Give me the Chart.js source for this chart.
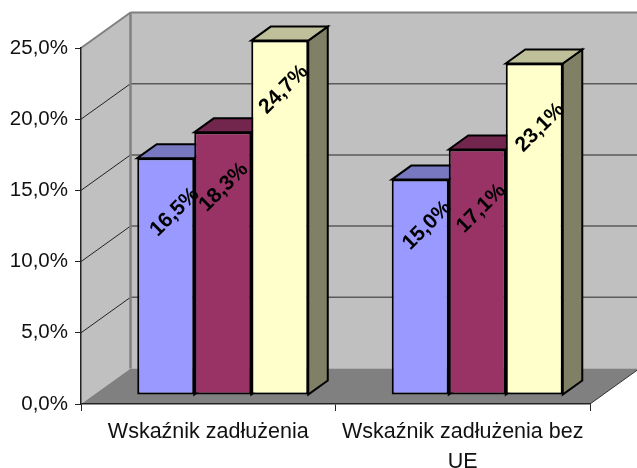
<!DOCTYPE html>
<html>
<head>
<meta charset="utf-8">
<script src="https://cdn.jsdelivr.net/npm/chart.js@4"></script>
<style>
    html, body { margin: 0; padding: 0; background: #fff; overflow: hidden; }
    canvas { display: block; }
</style>
</head>
<body>
<canvas id="barChart" width="637" height="468"></canvas>
<script>
const categories = ['Wskaźnik zadłużenia', ['Wskaźnik zadłużenia bez', 'UE']];
const seriesA = [16.5, 15.0];
const seriesB = [18.3, 17.1];
const seriesC = [24.7, 23.1];
const yTickLabels = ['0,0%', '5,0%', '10,0%', '15,0%', '20,0%', '25,0%'];

const fronts = ['#9999ff', '#993366', '#ffffcc'];
const tops = ['#7878c0', '#73264d', '#bfbf99'];
const sides = ['#4d4d80', '#4d1a33', '#808066'];

// 3d offsets of the box, the bars and the bar depth
const wall = { x: 49.5, y: -35.5 };
const shift = { x: 14.5, y: -9.4 };
const depth = { x: 19.5, y: -14 };

// small per label corrections, [dataset][category]
const labelNudge = [
    [[6, 2], [4, -6]],
    [[-2, 3], [1, 7]],
    [[1, -3], [3, 12]]
];

function poly(ctx, pts, fill, stroke, lw) {
    ctx.beginPath();
    pts.forEach((p, i) => i ? ctx.lineTo(p[0], p[1]) : ctx.moveTo(p[0], p[1]));
    ctx.closePath();
    if (fill) {
        ctx.fillStyle = fill;
        ctx.fill();
    }
    if (stroke) {
        ctx.strokeStyle = stroke;
        ctx.lineWidth = lw;
        ctx.lineJoin = 'miter';
        ctx.stroke();
    }
}

function line(ctx, x1, y1, x2, y2, color, lw) {
    ctx.beginPath();
    ctx.moveTo(x1, y1);
    ctx.lineTo(x2, y2);
    ctx.strokeStyle = color;
    ctx.lineWidth = lw;
    ctx.stroke();
}

const box3d = {
    id: 'box3d',
    beforeDraw(chart) {
        const ctx = chart.ctx;
        const a = chart.chartArea;
        const y = chart.scales.y;
        const bx = a.left + wall.x;
        const rx = a.right + wall.x;
        ctx.save();
        poly(ctx, [[bx, a.top + wall.y], [rx, a.top + wall.y], [rx, a.bottom + wall.y], [bx, a.bottom + wall.y]], '#c0c0c0');
        poly(ctx, [[a.left, a.top], [bx, a.top + wall.y], [bx, a.bottom + wall.y], [a.left, a.bottom]], '#c0c0c0');
        poly(ctx, [[a.left, a.bottom], [bx, a.bottom + wall.y], [rx, a.bottom + wall.y], [a.right, a.bottom]], '#808080');
        y.ticks.forEach((t, i) => {
            const py = y.getPixelForTick(i);
            if (t.value === 0) return;
            const top = t.value === y.max;
            line(ctx, bx, py + wall.y, rx, py + wall.y, top ? '#808080' : '#5a5a5a', top ? 2 : 1.5);
            line(ctx, a.left, py, bx, py + wall.y, top ? '#808080' : '#222', top ? 2 : 1);
        });
        line(ctx, bx, a.top + wall.y, bx, a.bottom + wall.y, '#808080', 2.5);
        line(ctx, a.right, a.bottom, rx, a.bottom + wall.y, '#333', 1);
        ctx.restore();
    },
    beforeDatasetsDraw(chart) {
        const ctx = chart.ctx;
        ctx.save();
        ctx.translate(shift.x, shift.y);
        chart.data.datasets.forEach((ds, d) => {
            chart.getDatasetMeta(d).data.forEach(bar => {
                const l = bar.x - bar.width / 2;
                const r = bar.x + bar.width / 2;
                poly(ctx, [[r, bar.y], [r + depth.x, bar.y + depth.y], [r + depth.x, bar.base + depth.y], [r, bar.base]], sides[d], '#000', 2);
                poly(ctx, [[l, bar.y], [l + depth.x, bar.y + depth.y], [r + depth.x, bar.y + depth.y], [r, bar.y]], tops[d], '#000', 2);
            });
        });
        // fronts are drawn by chart.js in the same shifted plane
    },
    afterDatasetsDraw(chart) {
        const ctx = chart.ctx;
        ctx.fillStyle = '#000';
        ctx.font = 'bold 21px "Liberation Sans"';
        ctx.textAlign = 'center';
        ctx.textBaseline = 'middle';
        chart.data.datasets.forEach((ds, d) => {
            chart.getDatasetMeta(d).data.forEach((bar, i) => {
                const n = labelNudge[d][i];
                ctx.save();
                ctx.translate(bar.x + 3 + n[0], bar.y + 52 + n[1]);
                ctx.rotate(-Math.PI / 4);
                ctx.fillText(ds.data[i].toFixed(1).replace('.', ',') + '%', 0, 0);
                ctx.restore();
            });
        });
        ctx.restore();
    }
};

function makeSet(values, d) {
    return {
        data: values,
        yAxisID: 'yBars',
        backgroundColor: fronts[d],
        borderColor: '#000',
        borderWidth: 2,
        borderSkipped: false,
        clip: false
    };
}

const ctx = document.getElementById('barChart').getContext('2d');
const myChart = new Chart(ctx, {
    type: 'bar',
    data: {
        labels: categories,
        datasets: [makeSet(seriesA, 0), makeSet(seriesB, 1), makeSet(seriesC, 2)]
    },
    plugins: [box3d],
    options: {
        responsive: false,
        animation: false,
        events: [],
        layout: { padding: { top: 48, right: 47 } },
        datasets: { bar: { barPercentage: 1, categoryPercentage: 0.672 } },
        plugins: { legend: { display: false }, tooltip: { enabled: false }, title: { display: false } },
        scales: {
            x: {
                grid: { drawOnChartArea: false, color: '#222', tickLength: 7 },
                border: { color: '#222', width: 1.5 },
                ticks: {
                    color: '#111',
                    font: { family: '"Liberation Sans"', size: 21.5, lineHeight: 1.4 },
                    maxRotation: 0,
                    padding: 6
                },
                afterFit(scale) { scale.height = 64; }
            },
            y: {
                min: 0,
                max: 25,
                grid: { drawOnChartArea: false, color: '#222', tickLength: 6 },
                border: { color: '#222', width: 1.5 },
                ticks: {
                    stepSize: 5,
                    color: '#111',
                    font: { family: '"Liberation Sans"', size: 20.5 },
                    padding: 7,
                    callback: (value, index) => yTickLabels[index]
                },
                afterFit(scale) { scale.width = 81; }
            },
            yBars: {
                display: false,
                min: 0,
                max: 24.84
            }
        }
    }
});
</script>
</body>
</html>
